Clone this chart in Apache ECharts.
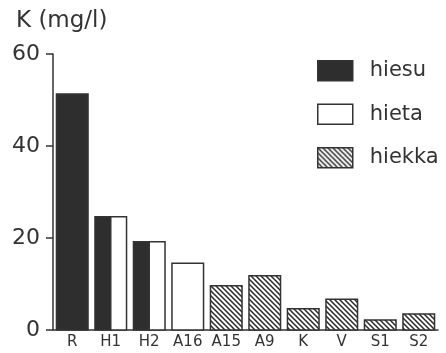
<!DOCTYPE html>
<html>
<head>
<meta charset="utf-8">
<script src="https://cdn.jsdelivr.net/npm/echarts@6/dist/echarts.min.js"></script>
<style>
  html, body { margin: 0; padding: 0; background: #fff; }
  #chart { width: 446px; height: 353px; }
</style>
</head>
<body>
<div id="chart"></div>
<script>
// Potassium content (mg/l) by site, grouped by soil type
const categories = ['R', 'H1', 'H2', 'A16', 'A15', 'A9', 'K', 'V', 'S1', 'S2'];
const hiesu  = [51.3, 24.6, 19.2, null, null, null, null, null, null, null];
const hieta  = [null, 24.6, 19.2, 14.5, null, null, null, null, null, null];
const hiekka = [null, null, null, null, 9.6, 11.8, 4.6, 6.7, 2.2, 3.5];
const yTicks = [0, 20, 40, 60];

const FONT = 'DejaVu Sans';
const INK = '#333';

// diagonal hatch tile for the sand series
function hatchPattern() {
  const s = 5;
  const c = document.createElement('canvas');
  c.width = s; c.height = s;
  const g = c.getContext('2d');
  g.fillStyle = '#fff';
  g.fillRect(0, 0, s, s);
  g.strokeStyle = '#2a2a2a';
  g.lineWidth = 1.5;
  g.beginPath();
  g.moveTo(-1, -1); g.lineTo(s + 1, s + 1);
  g.moveTo(-1, s - 1); g.lineTo(1, s + 1);
  g.moveTo(s - 1, -1); g.lineTo(s + 1, 1);
  g.stroke();
  return { image: c, repeat: 'repeat' };
}

const groups = [
  { name: 'hiesu',  values: hiesu,  fill: '#2e2e2e' },
  { name: 'hieta',  values: hieta,  fill: '#ffffff' },
  { name: 'hiekka', values: hiekka, fill: hatchPattern() }
];

// bars in a category share the slot; single bars take the whole slot
function makeRenderer(gi) {
  return function (params, api) {
    const idx = api.value(0);
    const val = api.value(1);
    const present = groups.map((g, k) => g.values[idx] != null ? k : -1).filter(k => k >= 0);
    const slot = present.indexOf(gi);
    const band = api.size([1, 0])[0];
    const total = band * 0.82;
    const w = total / present.length;
    const base = api.coord([idx, 0]);
    const top = api.coord([idx, val]);
    return {
      type: 'rect',
      shape: { x: base[0] - total / 2 + slot * w, y: top[1], width: w, height: base[1] - top[1] },
      style: { fill: groups[gi].fill, stroke: INK, lineWidth: 1.5 }
    };
  };
}

const series = groups.map((g, gi) => ({
  name: g.name,
  type: 'custom',
  renderItem: makeRenderer(gi),
  encode: { x: 0, y: 1 },
  itemStyle: { color: g.fill, borderColor: INK, borderWidth: 1.5 },
  data: g.values.map((v, i) => v == null ? null : [i, v]).filter(d => d)
}));

const chart = echarts.init(document.getElementById('chart'), null, { renderer: 'canvas' });
chart.setOption({
  animation: false,
  backgroundColor: '#fff',
  title: {
    text: 'K (mg/l)',
    left: 11, top: 5,
    textStyle: { fontFamily: FONT, fontSize: 23, fontWeight: 'normal', color: INK }
  },
  legend: {
    orient: 'vertical',
    left: 312, top: 55,
    itemWidth: 35, itemHeight: 20, itemGap: 22,
    icon: 'rect',
    textStyle: { fontFamily: FONT, fontSize: 21, color: INK, padding: [0, 0, 0, 12], lineHeight: 20 },
    data: groups.map(g => ({
      name: g.name,
      itemStyle: { color: g.fill, borderColor: INK, borderWidth: 1.5 }
    }))
  },
  grid: { left: 53, right: 8, top: 54, bottom: 23 },
  xAxis: {
    type: 'category',
    data: categories,
    boundaryGap: true,
    axisLine: { lineStyle: { color: INK, width: 1.5 } },
    axisTick: { show: false },
    axisLabel: { fontFamily: FONT, fontSize: 15, color: INK, margin: 5, interval: 0 }
  },
  yAxis: {
    type: 'value',
    min: yTicks[0], max: yTicks[yTicks.length - 1], interval: 20,
    axisLine: { show: true, lineStyle: { color: INK, width: 1.5 } },
    axisTick: { show: true, length: 7, lineStyle: { color: INK, width: 1.5 } },
    splitLine: { show: false },
    axisLabel: { fontFamily: FONT, fontSize: 22, color: INK, margin: 13 }
  },
  series: series
});
</script>
</body>
</html>
